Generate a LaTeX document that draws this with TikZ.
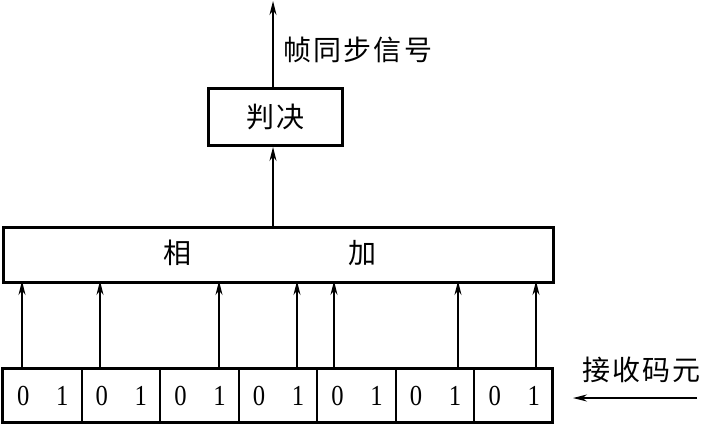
\documentclass[tikz,border=0pt]{standalone}
\usepackage{fontspec}
\setmainfont{Liberation Serif}
\newfontfamily\cjk[LetterSpace=8]{Noto Sans CJK SC}
\usetikzlibrary{arrows.meta}
\begin{document}
\begin{tikzpicture}[x=1pt,y=-1pt,
  box/.style={draw,line width=3pt,inner sep=0pt},
  arr/.style={-{Stealth[length=14pt,width=7pt]},line width=1.3pt},
  lbl/.style={font=\cjk\fontsize{28}{28}\selectfont,inner sep=0pt},
  dig/.style={font=\fontsize{29}{29}\selectfont,inner sep=0pt}]
\useasboundingbox (0,0) rectangle (701,426);
% register cells
\foreach \i in {0,...,6} {
  \pgfmathsetmacro\xa{2+\i*78.57}
  \node[box,minimum width=78.57pt,minimum height=54pt,anchor=north west,line width=2pt] (c\i) at (\xa,368) {};
  \node[dig] (z\i) at ([xshift=-19pt]c\i.center) {\scalebox{0.85}[1]{0}};
  \node[dig] (o\i) at ([xshift=20pt]c\i.center) {\scalebox{0.85}[1]{1}};
}
\draw[line width=3pt] (2,368) rectangle (552,422);
% sum box
\node[box,minimum width=550pt,minimum height=55pt,anchor=north west] (sum) at (2,226) {};
\node[lbl] (xiang) at (177,253) {相};
\node[lbl] (jia) at (362,253) {加};
% decision box
\node[box,minimum width=134pt,minimum height=57pt,anchor=north west] (dec) at (207,87) {};
\node[lbl] (pj) at (dec.center) {判决};
% arrows register -> sum
\foreach \x in {22,100,219,297,334,458,536} {
  \coordinate (s\x) at (\x,368);
  \draw[arr] (s\x) -- (\x,281);
}
\draw[arr] (sum.north -| 273,0) -- (dec.south -| 273,0);
\coordinate (top) at (273,1);
\draw[arr] (dec.north -| 273,0) -- (top);
\node[lbl,anchor=west] (fs) at (283,50) {帧同步信号};
\node[lbl,anchor=west] (rx) at (582,370) {接收码元};
\coordinate (rxa) at (697,398);
\coordinate (rxb) at (573,398);
\draw[arr] (rxa) -- (rxb);
\end{tikzpicture}
\end{document}
